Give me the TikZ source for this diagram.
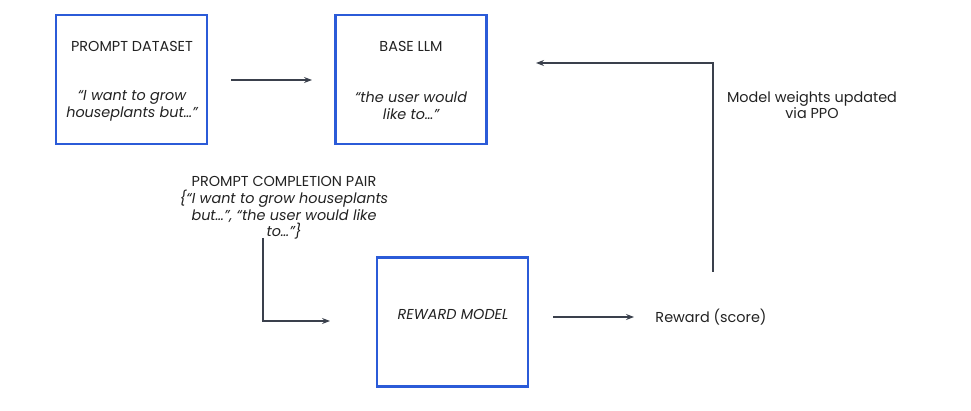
\documentclass[tikz,border=0pt]{standalone}
\usepackage{fontspec}
\setmainfont{Poppins}
\usetikzlibrary{arrows.meta}
\definecolor{boxblue}{HTML}{2B5BD8}
\definecolor{lineg}{HTML}{3A404C}
\definecolor{txt}{HTML}{222222}
\begin{document}
\begin{tikzpicture}[x=1pt,y=-1pt,
  blk/.style={draw=boxblue,line width=2.6pt,minimum width=151pt,minimum height=129pt,inner sep=0pt},
  lbl/.style={text=txt,font=\fontsize{14.4}{16.8}\selectfont,align=center,inner sep=0pt},
  conn/.style={draw=lineg,line width=1.1pt,-{Stealth[length=8pt,width=6pt]}}]
\useasboundingbox (0,0) rectangle (971,411);
\node[blk] (pd) at (131.5,79.5) {};
\node[blk] (llm) at (411,79.5) {};
\node[blk] (rm) at (452.5,322) {};
\node[lbl] (pdt) at (132,46) {PROMPT DATASET};
\node[lbl] (pdq) at (132,106) {\itshape “I want to grow\\\itshape houseplants but…”};
\node[lbl] (llmt) at (411,46) {BASE LLM};
\node[lbl] (llmq) at (411,106) {\itshape “the user would\\\itshape like to…”};
\node[lbl] (rmt) at (453,314) {\itshape REWARD MODEL};
\node[lbl] (rw) at (711,317) {Reward (score)};
\node[lbl] (ppo) at (812,105) {Model weights updated\\via PPO};
\node[lbl] (pair) at (284,208) {PROMPT COMPLETION PAIR\\\itshape \{“I want to grow houseplants\\\itshape but…”, “the user would like\\\itshape to…”\}};
\coordinate (a1s) at (231,80);
\coordinate (a1e) at (312,80);
\draw[conn] (a1s) -- (a1e);
\coordinate (ps) at (263,238);
\coordinate (pc) at (263,321);
\coordinate (pe) at (330,321);
\draw[conn] (ps) -- (pc) -- (pe);
\coordinate (rs) at (553,317);
\coordinate (re) at (634,317);
\draw[conn] (rs) -- (re);
\coordinate (fs) at (713,272);
\coordinate (fc) at (713,63);
\coordinate (fe) at (536,63);
\draw[conn] (fs) -- (fc) -- (fe);
\end{tikzpicture}
\end{document}
